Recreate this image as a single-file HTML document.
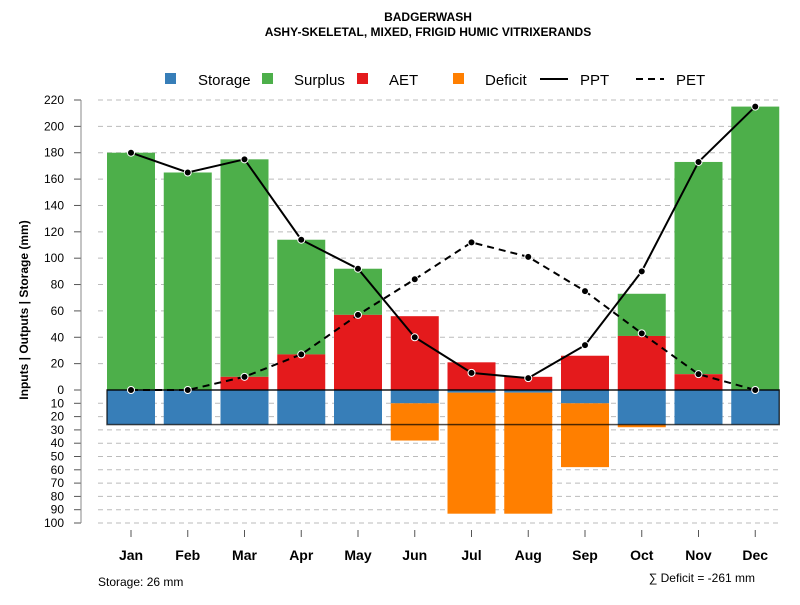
<!DOCTYPE html>
<html><head><meta charset="utf-8"><style>
body{margin:0;background:#fff;font-family:"Liberation Sans",sans-serif}
svg text{font-family:"Liberation Sans",sans-serif}
</style></head><body>
<svg id="c" width="800" height="600" xmlns="http://www.w3.org/2000/svg">
<text x="428" y="21" text-anchor="middle" font-size="12" font-weight="bold">BADGERWASH</text>
<text x="428" y="36" text-anchor="middle" font-size="12" font-weight="bold">ASHY-SKELETAL, MIXED, FRIGID HUMIC VITRIXERANDS</text>
<g>
<rect x="165" y="73" width="11" height="11" fill="#377eb8"/>
<text x="198" y="85" font-size="15">Storage</text>
<rect x="262" y="73" width="11" height="11" fill="#4daf4a"/>
<text x="294" y="85" font-size="15">Surplus</text>
<rect x="357" y="73" width="11" height="11" fill="#e41a1c"/>
<text x="389" y="85" font-size="15">AET</text>
<rect x="453" y="73" width="11" height="11" fill="#ff7f00"/>
<text x="485" y="85" font-size="15">Deficit</text>
<line x1="540" y1="79" x2="568" y2="79" stroke="#000" stroke-width="2"/>
<text x="580" y="85" font-size="15">PPT</text>
<line x1="636" y1="79" x2="664" y2="79" stroke="#000" stroke-width="2" stroke-dasharray="7,5"/>
<text x="676" y="85" font-size="15">PET</text>
</g>
<text transform="translate(28,310) rotate(-90)" text-anchor="middle" font-size="12" font-weight="bold">Inputs | Outputs | Storage    (mm)</text>
<text x="98" y="586" font-size="12">Storage: 26 mm</text>
<text x="755" y="582" text-anchor="end" font-size="12">∑ Deficit = -261 mm</text>
<g id="grid"></g><g id="bars"></g><g id="lines"></g><g id="axes"></g>
</svg>
<script>
const months=["Jan","Feb","Mar","Apr","May","Jun","Jul","Aug","Sep","Oct","Nov","Dec"];
const ppt=[180,165,175,114,92,40,13,9,34,90,173,215];
const pet=[0,0,10,27,57,84,112,101,75,43,12,0];
const aet=[0,0,10,27,57,56,21,10,26,41,12,0];
const surplusTop=[180,165,175,114,92,0,0,0,0,73,173,215];
const storage=[26,26,26,26,26,10,2,2,10,26,26,26];
const deficit=[0,0,0,0,0,28,91,91,48,2,0,0];
const posTicks=[0,20,40,60,80,100,120,140,160,180,200,220];
const negTicks=[10,20,30,40,50,60,70,80,90,100];
const capacity=26;
const NS="http://www.w3.org/2000/svg";
const yP=v=>390-v*290/220, yN=v=>390+v*1.33, xM=i=>131+i*56.75;
function mk(p,t,a){const e=document.createElementNS(NS,t);for(const k in a)e.setAttribute(k,a[k]);document.getElementById(p).appendChild(e);return e;}
posTicks.concat(negTicks.map(v=>-v)).forEach(v=>{
 const y=v>=0?yP(v):yN(-v);
 if(v!==0){const g=mk("grid","line",{x1:98,x2:780,y1:y,y2:y,stroke:"#bbb","stroke-dasharray":"5,4"});
 
 }
 const t=mk("axes","line",{x1:74,x2:81,y1:y,y2:y,stroke:"#555"});
 
 
 const l=mk("axes","text",{x:64,y:y+4,"text-anchor":"end","font-size":12});l.textContent=Math.abs(v);
 
 
});
const ax=mk("axes","line",{x1:81,x2:81,y1:yP(220),y2:yN(100),stroke:"#888"});


const bw=48;
months.forEach((m,i)=>{
 const x=xM(i)-bw/2;
 function r(y1,y2,c,n){if(Math.abs(y2-y1)<0.1)return;const e=mk("bars","rect",{x:x,y:Math.min(y1,y2),width:bw,height:Math.abs(y2-y1),fill:c});
  
  }
 if(surplusTop[i]>aet[i])r(yP(aet[i]),yP(surplusTop[i]),"#4daf4a","surplus-bar-"+m.toLowerCase());
 r(yP(0),yP(aet[i]),"#e41a1c","aet-bar-"+m.toLowerCase());
 r(yN(0),yN(storage[i]),"#377eb8","storage-bar-"+m.toLowerCase());
 r(yN(storage[i]),yN(storage[i]+deficit[i]),"#ff7f00","deficit-bar-"+m.toLowerCase());
 const tk=mk("axes","line",{x1:xM(i),x2:xM(i),y1:530,y2:537,stroke:"#555"});
 
 
 const t=mk("axes","text",{x:xM(i),y:560,"text-anchor":"middle","font-size":14,"font-weight":"bold"});t.textContent=m;
 
 
});
const bx0=xM(0)-bw/2, bx1=xM(months.length-1)+bw/2;
const box=mk("bars","rect",{x:bx0,y:390,width:bx1-bx0,height:yN(capacity)-390,fill:"none",stroke:"#000","stroke-opacity":0.7,"stroke-width":1.5});


const z=mk("bars","line",{x1:bx0,x2:bx1,y1:390,y2:390,stroke:"#000"});


function series(arr,dash,n){
 const p=mk("lines","polyline",{points:arr.map((v,i)=>xM(i)+","+yP(v)).join(" "),fill:"none",stroke:"#000","stroke-width":2,"stroke-dasharray":dash});
 
 
 arr.forEach((v,i)=>{const c=mk("lines","circle",{cx:xM(i),cy:yP(v),r:3.5,fill:"#000",stroke:"#fff","stroke-width":1});
  
  });
}
series(pet,"7,5","pet");
series(ppt,"none","ppt");
</script>
</body></html>
